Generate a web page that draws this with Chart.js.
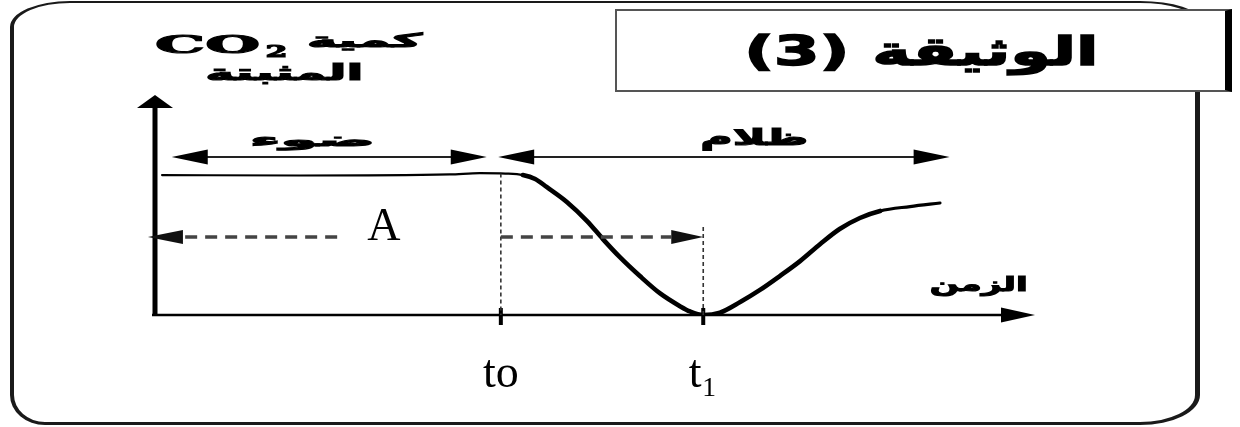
<!DOCTYPE html>
<html lang="ar">
<head>
<meta charset="utf-8">
<title>الوثيقة (3)</title>
<script src="https://cdn.jsdelivr.net/npm/chart.js@4.4.1/dist/chart.umd.min.js"></script>
<style>
  html, body { margin: 0; padding: 0; background: #fff; }
  body { width: 1240px; height: 427px; position: relative; overflow: hidden; }
  /* rounded outer frame of the document */
  .frame {
    position: absolute; left: 10px; top: 1px; width: 1190px; height: 424px;
    box-sizing: border-box; border-style: solid; border-color: #1a1a1a;
    border-width: 2px 5px 3px 4px;
    border-radius: 60px 60px 60px 35px / 26px 20px 30px 30px;
  }
  #chartWrap { position: absolute; left: 0; top: 0; width: 1240px; height: 427px; }
  .title-box {
    position: absolute; left: 615px; top: 9px; width: 617px; height: 83px;
    box-sizing: border-box; background: #fff;
    border: 2px solid #555; border-right: 7px solid #000;
    display: flex; align-items: center; justify-content: center;
  }
  .title-box span {
    display: inline-block; white-space: nowrap;
    font: bold 40px "DejaVu Sans"; color: #000;
    -webkit-text-stroke: 1.5px #000;
  }
</style>
</head>
<body>
<div class="frame"></div>
<div id="chartWrap"><canvas id="co2Chart" width="1240" height="427"></canvas></div>
<div class="title-box"><span id="docTitle" dir="rtl">الوثيقة (3)</span></div>

<script>
const timeValues = [0.8, 16.5, 33.5, 36.9, 39.8, 41.8, 43.2, 44.5, 46.8, 49.1, 50.9, 52.8,
                    55.1, 57.4, 59.7, 60.8, 62.3, 64.2, 66.5, 68.75, 71.0, 73.3, 75.6,
                    77.8, 80.1, 82.4, 85.8, 89.2];
const co2Values = [63.6, 63.4, 63.9, 64.5, 64.3, 63.6, 61.8, 58.2, 51.4, 42.7, 34.5, 26.4,
                   17.7, 9.8, 3.9, 1.6, 0, 1.1, 5.9, 11.4, 17.7, 24.5, 32.3,
                   39.1, 44.1, 47.3, 49.3, 50.9];

const eventTimes = [39.3, 62.3];          // to, t1
const tickLabels = ['to', 't\u2081'];

const phaseNames = ['ضوء', 'ظلام'];
const phaseStart = [1.9, 39.0];
const phaseEnd = [37.7, 90.3];
const phaseLevel = 71.8;

const delayFrom = [20.7, 39.3];           // dashed arrows, head at delayTo
const delayTo = [-0.8, 62.3];
const delayLevel = 35.5;

const yTitleTop = 'كمية';
const yTitleBottom = 'المثبتة';
const xTitle = 'الزمن';

/**
 * Draws text squeezed/stretched horizontally to a given width (the scan is wide).
 * A thin stroke makes it as heavy as the scanned letters.
 */
function drawFitted(ctx, text, cx, baseline, width, font, rtl) {
    ctx.save();
    ctx.font = font;
    ctx.direction = rtl ? 'rtl' : 'ltr';
    const w = ctx.measureText(text).width;
    ctx.translate(cx, baseline);
    ctx.scale(width / w, 1);
    ctx.textAlign = 'center';
    ctx.textBaseline = 'alphabetic';
    ctx.fillStyle = '#000';
    ctx.strokeStyle = '#000';
    ctx.lineWidth = 1.1;
    ctx.fillText(text, 0, 0);
    ctx.strokeText(text, 0, 0);
    ctx.restore();
}

function arrowHead(ctx, tipX, tipY, dir, len, half) {
    ctx.beginPath();
    ctx.moveTo(tipX, tipY);
    if (dir === 'up') {
        ctx.lineTo(tipX - half, tipY + len);
        ctx.lineTo(tipX + half, tipY + len);
    } else {
        const s = dir === 'right' ? -1 : 1;
        ctx.lineTo(tipX + s * len, tipY - half);
        ctx.lineTo(tipX + s * len, tipY + half);
    }
    ctx.closePath();
    ctx.fill();
}

function line(ctx, x0, y0, x1, y1, width, dash, color) {
    ctx.save();
    ctx.beginPath();
    ctx.lineWidth = width;
    ctx.strokeStyle = color || '#000';
    ctx.setLineDash(dash || []);
    ctx.moveTo(x0, y0);
    ctx.lineTo(x1, y1);
    ctx.stroke();
    ctx.restore();
}

// axes with arrows, drawn under the curve
const axesPlugin = {
    id: 'docAxes',
    beforeDatasetsDraw(chart) {
        const { ctx, chartArea: a, scales: { x, y } } = chart;
        const x0 = x.getPixelForValue(0);
        const y0 = y.getPixelForValue(0);
        ctx.save();
        ctx.fillStyle = '#000';
        // y axis
        line(ctx, x0, y0, x0, a.top + 12, 5);
        arrowHead(ctx, x0, a.top, 'up', 13, 18);
        // x axis
        line(ctx, x0 - 3, y0, a.right - 32, y0, 2.5);
        arrowHead(ctx, a.right, y0, 'right', 34, 7.5);
        // tick marks at to and t1
        eventTimes.forEach(t => {
            const px = x.getPixelForValue(t);
            line(ctx, px, y0 - 7, px, y0 + 10, 4);
        });
        ctx.restore();
    }
};

// labels, period arrows and dashed delay arrows
const notesPlugin = {
    id: 'docNotes',
    afterDatasetsDraw(chart) {
        const { ctx, scales: { x, y } } = chart;
        const y0 = y.getPixelForValue(0);
        ctx.save();
        ctx.fillStyle = '#000';

        // dotted guides from the curve down to to / t1
        line(ctx, x.getPixelForValue(eventTimes[0]), y.getPixelForValue(co2Values[4]),
             x.getPixelForValue(eventTimes[0]), y0, 1.6, [4, 3], '#333');
        line(ctx, x.getPixelForValue(eventTimes[1]), y.getPixelForValue(delayLevel) - 10,
             x.getPixelForValue(eventTimes[1]), y0, 1.6, [4, 3], '#333');

        // light / dark periods
        const py = y.getPixelForValue(phaseLevel);
        phaseNames.forEach((name, i) => {
            const xs = x.getPixelForValue(phaseStart[i]);
            const xe = x.getPixelForValue(phaseEnd[i]);
            line(ctx, xs + 20, py, xe - 20, py, 2, null, '#222');
            arrowHead(ctx, xs, py, 'left', 36, 7.5);
            arrowHead(ctx, xe, py, 'right', 36, 7.5);
        });

        // dashed arrows (A and to -> t1)
        const dy = y.getPixelForValue(delayLevel);
        delayFrom.forEach((from, i) => {
            const xf = x.getPixelForValue(from);
            const xt = x.getPixelForValue(delayTo[i]);
            const dir = xt > xf ? 'right' : 'left';
            const base = dir === 'right' ? xt - 32 : xt + 35;
            line(ctx, xf, dy, base, dy, 3.5, [12, 8], '#444');
            ctx.fillStyle = '#111';
            arrowHead(ctx, xt, dy, dir, dir === 'right' ? 32 : 35, 7);
        });

        // texts
        ctx.fillStyle = '#000';
        ctx.font = '46px "Liberation Serif"';
        ctx.textAlign = 'center';
        ctx.textBaseline = 'alphabetic';
        ctx.fillText('A', x.getPixelForValue(26.0), y.getPixelForValue(34.1));

        drawFitted(ctx, 'CO', x.getPixelForValue(5.97), y.getPixelForValue(119.1), 105,
                   'bold 25px "DejaVu Serif"');
        drawFitted(ctx, '2', x.getPixelForValue(13.8), y.getPixelForValue(117.3), 22,
                   'bold 17px "DejaVu Serif"');
        drawFitted(ctx, yTitleTop, x.getPixelForValue(23.8), y.getPixelForValue(121.8), 115,
                   'bold 19px "DejaVu Sans"', true);
        drawFitted(ctx, yTitleBottom, x.getPixelForValue(14.7), y.getPixelForValue(106.8), 158,
                   'bold 22px "DejaVu Sans"', true);
        drawFitted(ctx, phaseNames[0], x.getPixelForValue(17.9), y.getPixelForValue(76.8), 125,
                   'bold 18px "DejaVu Sans"', true);
        drawFitted(ctx, phaseNames[1], x.getPixelForValue(68.1), y.getPixelForValue(77.3), 108,
                   'bold 23px "DejaVu Sans"', true);
        drawFitted(ctx, xTitle, x.getPixelForValue(93.6), y.getPixelForValue(10.9), 98,
                   'bold 20px "DejaVu Sans"', true);
        ctx.restore();
    }
};

function initDocChart(ctxId) {
    const ctx = document.getElementById(ctxId).getContext('2d');
    return new Chart(ctx, {
        type: 'line',
        data: {
            datasets: [{
                data: timeValues.map((t, i) => ({ x: t, y: co2Values[i] })),
                borderColor: '#000',
                borderWidth: 2.2,
                borderCapStyle: 'round',
                borderJoinStyle: 'round',
                pointRadius: 0,
                fill: false,
                cubicInterpolationMode: 'monotone',
                segment: {
                    // thin in the light, thick once the dark starts
                    borderWidth: c => c.p0.parsed.x < eventTimes[0] + 2 ? 2.2
                                    : c.p0.parsed.x < 82 ? 4.6 : 3.2
                }
            }]
        },
        options: {
            responsive: false,
            animation: false,
            devicePixelRatio: 1,
            layout: { padding: { left: 155, right: 205, top: 95, bottom: 0 } },
            scales: {
                x: {
                    type: 'linear',
                    min: 0,
                    max: 100,
                    grid: { display: false },
                    border: { display: false },
                    afterBuildTicks: scale => {
                        scale.ticks = eventTimes.map(v => ({ value: v }));
                    },
                    afterFit: scale => { scale.height = 112; },
                    ticks: {
                        autoSkip: false,
                        maxRotation: 0,
                        padding: 24,
                        color: '#000',
                        font: { family: 'Liberation Serif', size: 46 },
                        callback: (v, i) => tickLabels[i]
                    }
                },
                y: { display: false, min: 0, max: 100 }
            },
            plugins: {
                legend: { display: false },
                tooltip: { enabled: false }
            }
        },
        plugins: [axesPlugin, notesPlugin]
    });
}

// stretch the title like the scan
const title = document.getElementById('docTitle');
title.style.transform = 'scaleX(' + (355 / title.offsetWidth) + ')';

initDocChart('co2Chart');
</script>
</body>
</html>
